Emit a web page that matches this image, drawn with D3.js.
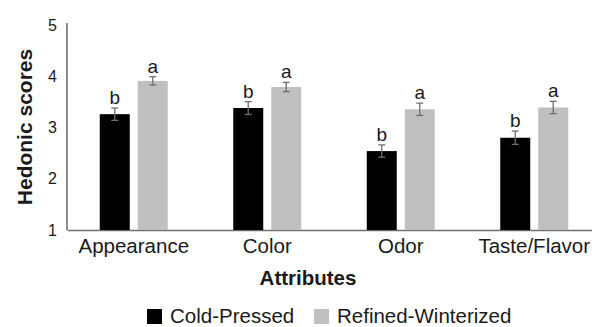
<!DOCTYPE html>
<html>
<head>
<meta charset="utf-8">
<script src="https://cdn.jsdelivr.net/npm/d3@7"></script>
<style>
  body { margin: 0; background: #fff; }
  text { font-family: "Liberation Sans", Arial, Helvetica, sans-serif; fill: #1a1a1a; }
</style>
</head>
<body>
<div id="chart"></div>
<script>
// data
const attributes = ["Appearance", "Color", "Odor", "Taste/Flavor"];
const series = ["Cold-Pressed", "Refined-Winterized"];
const coldPressed = [3.26, 3.38, 2.54, 2.80];
const coldErr = [0.12, 0.125, 0.12, 0.13];
const coldLetters = ["b", "b", "b", "b"];
const refined = [3.91, 3.79, 3.355, 3.39];
const refinedErr = [0.08, 0.09, 0.12, 0.12];
const refinedLetters = ["a", "a", "a", "a"];
const yTicks = [1, 2, 3, 4, 5];

const W = 592, H = 327;
const colors = {"Cold-Pressed": "#000000", "Refined-Winterized": "#c0c0c0"};

const rows = [];
attributes.forEach((a, i) => {
  rows.push({attr: a, s: series[0], v: coldPressed[i], e: coldErr[i], l: coldLetters[i]});
  rows.push({attr: a, s: series[1], v: refined[i], e: refinedErr[i], l: refinedLetters[i]});
});

const svg = d3.select("#chart").append("svg")
  .attr("width", W).attr("height", H);

const x = d3.scaleBand().domain(attributes).range([67, 601]).padding(0);
const xs = d3.scaleBand().domain(series)
  .range([x.bandwidth() / 2 - 34, x.bandwidth() / 2 + 34])
  .paddingInner(0.2105).paddingOuter(0);
const y = d3.scaleLinear().domain([1, 5]).range([230, 25]);

// y axis
const yAxis = svg.append("g")
  .attr("transform", "translate(67,0)")
  .call(d3.axisLeft(y).tickValues(yTicks).tickFormat(d3.format("d"))
    .tickSize(0).tickPadding(10).tickSizeOuter(0));
yAxis.select(".domain").attr("stroke", "#707070").attr("stroke-width", 1.6)
  .attr("d", "M0," + (y(5) - 2) + "V" + y(1));
yAxis.selectAll("text").style("font-size", "16px").attr("fill", "#1a1a1a");

// x axis
const xAxis = svg.append("g")
  .attr("transform", "translate(0," + y(1) + ")")
  .call(d3.axisBottom(x).tickSize(0).tickPadding(8).tickSizeOuter(0));
xAxis.select(".domain").attr("stroke", "#707070").attr("stroke-width", 1.6);
xAxis.selectAll("text").style("font-size", "20.5px").attr("fill", "#1a1a1a").attr("dy", "0.75em");

// bars
const g = svg.append("g");
g.selectAll("rect.bar").data(rows).enter().append("rect")
  .attr("class", "bar")
  .attr("x", d => x(d.attr) + xs(d.s))
  .attr("y", d => y(d.v))
  .attr("width", xs.bandwidth())
  .attr("height", d => y(1) - y(d.v))
  .attr("fill", d => colors[d.s]);

// error bars
const eb = g.selectAll("g.err").data(rows).enter().append("g")
  .attr("class", "err")
  .attr("transform", d => "translate(" + (x(d.attr) + xs(d.s) + xs.bandwidth() / 2) + ",0)")
  .attr("stroke", "#6e6e6e").attr("stroke-width", 1.3);
eb.append("line").attr("x1", 0).attr("x2", 0)
  .attr("y1", d => y(d.v + d.e)).attr("y2", d => y(d.v - d.e));
eb.append("line").attr("x1", -3.5).attr("x2", 3.5)
  .attr("y1", d => y(d.v + d.e)).attr("y2", d => y(d.v + d.e));
eb.append("line").attr("x1", -3.5).attr("x2", 3.5)
  .attr("y1", d => y(d.v - d.e)).attr("y2", d => y(d.v - d.e));

// significance letters
g.selectAll("text.sig").data(rows).enter().append("text")
  .attr("class", "sig")
  .attr("x", d => x(d.attr) + xs(d.s) + xs.bandwidth() / 2)
  .attr("y", d => y(d.v + d.e) - 4)
  .attr("text-anchor", "middle")
  .style("font-size", "19px")
  .text(d => d.l);

// axis titles
svg.append("text")
  .attr("transform", "translate(32,127) rotate(-90)")
  .attr("text-anchor", "middle")
  .style("font-size", "21px").style("font-weight", "bold")
  .text("Hedonic scores");

svg.append("text")
  .attr("x", 308).attr("y", 285)
  .attr("text-anchor", "middle")
  .style("font-size", "20.5px").style("font-weight", "bold")
  .text("Attributes");

// legend
const legendX = [147, 314];
const legend = svg.selectAll("g.legend").data(series).enter().append("g")
  .attr("class", "legend")
  .attr("transform", (d, i) => "translate(" + legendX[i] + ",309)");
legend.append("rect")
  .attr("width", 15).attr("height", 15)
  .attr("fill", d => colors[d]);
legend.append("text")
  .attr("x", 23).attr("y", 14)
  .style("font-size", "20.5px")
  .text(d => d);
</script>
</body>
</html>
